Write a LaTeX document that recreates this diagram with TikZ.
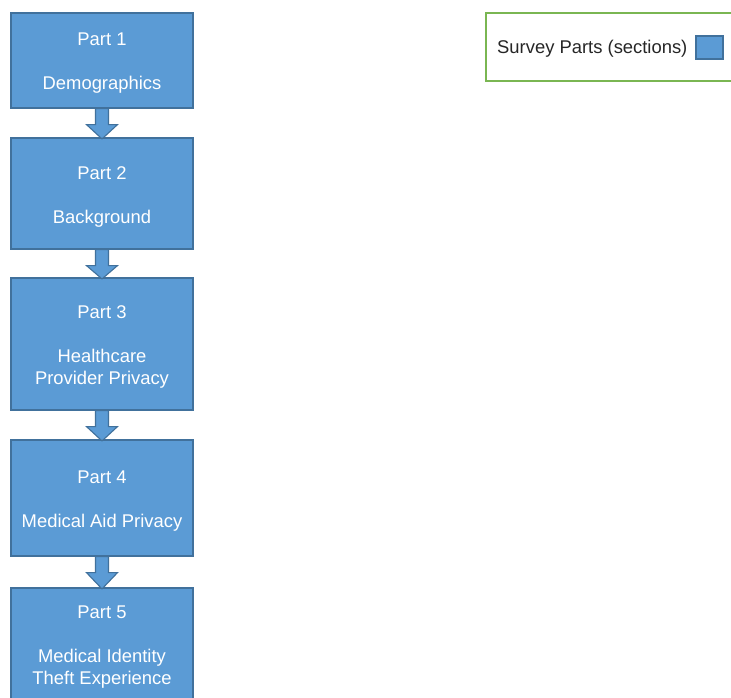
\documentclass[tikz,border=0pt]{standalone}
\usepackage{fontspec}
\setmainfont{Liberation Sans}
\usetikzlibrary{calc}
\definecolor{partfill}{RGB}{91,155,213}
\definecolor{partline}{RGB}{65,113,156}
\definecolor{legline}{RGB}{122,182,82}
\begin{document}
\begin{tikzpicture}[x=1pt,y=-1pt,
  part/.style={draw=partline, fill=partfill, line width=1.2pt, minimum width=182pt,
    inner sep=0pt},
  parttext/.style={inner sep=0pt, align=center, text=white,
    font=\fontsize{18.4}{22}\selectfont},
  blockarrow/.style={draw=partline, fill=partfill, line width=1.1pt, line join=miter}]
\clip (0,0) rectangle (731,697);
\fill[white] (0,0) rectangle (731,697);
\node[part, minimum height=95pt] (p1) at (102,60.5) {};
\node[part, minimum height=111pt] (p2) at (102,193.5) {};
\node[part, minimum height=132pt] (p3) at (102,344) {};
\node[part, minimum height=116pt] (p4) at (102,498) {};
\node[part, minimum height=114pt] (p5) at (102,645) {};
\node[parttext] (t1) at ($(p1.center)+(0,3)$) {Part 1\\[22pt]Demographics};
\node[parttext] (t2) at ($(p2.center)+(0,3)$) {Part 2\\[22pt]Background};
\node[parttext] (t3) at ($(p3.center)+(0,2.5)$) {Part 3\\[22pt]Healthcare\\Provider Privacy};
\node[parttext] (t4) at ($(p4.center)+(0,3)$) {Part 4\\[22pt]Medical Aid Privacy};
\node[parttext] (t5) at ($(p5.center)+(0,2)$) {Part 5\\[22pt]Medical Identity\\Theft Experience};
\foreach \a/\b in {p1/p2,p2/p3,p3/p4,p4/p5}{
  \draw[blockarrow] ($(\a.south)+(-6.5,0)$) -- ++(0,16) -- ++(-9,0) -- ($(\b.north)+(0,1.5)$)
    -- ($(\a.south)+(15.5,16)$) -- ++(-9,0) -- ($(\a.south)+(6.5,0)$) -- cycle;
}
\node[draw=legline, line width=1.2pt, minimum width=252pt, minimum height=68pt, inner sep=0pt] (leg) at (612,47) {};
\node[anchor=west, inner sep=0pt, text=black!85, font=\fontsize{18.4}{22}\selectfont] (legtext) at (497,49) {Survey Parts (sections)};
\node[draw=partline, fill=partfill, line width=1.1pt, minimum width=27pt, minimum height=23pt, inner sep=0pt] (swatch) at (709.5,47.5) {};
\end{tikzpicture}
\end{document}
